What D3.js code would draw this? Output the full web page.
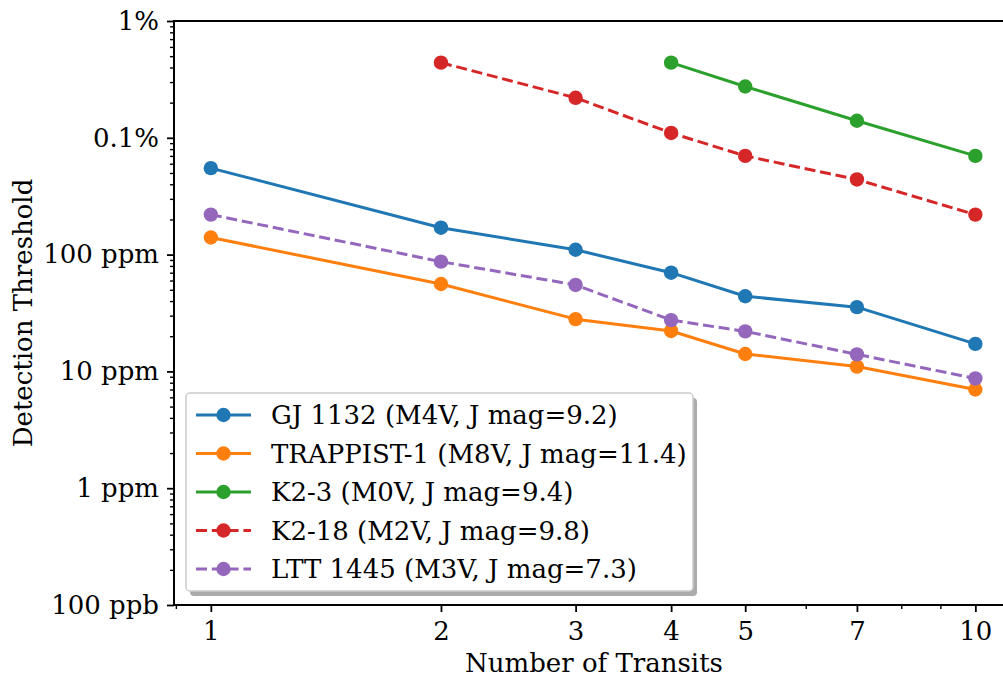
<!DOCTYPE html>
<html>
<head>
<meta charset="utf-8">
<script src="https://cdn.jsdelivr.net/npm/d3@7"></script>
<style>
  html, body { margin: 0; padding: 0; background: #fff; }
  svg { display: block; font-family: "DejaVu Serif", serif; }
</style>
</head>
<body>
<svg id="chart" width="1003" height="677"></svg>
<script>
// Number of transits observed
const transits = [1, 2, 3, 4, 5, 7, 10];

// Detection threshold (fractional depth) per target
const gj1132    = [5.5e-4, 1.7e-4, 1.1e-4, 7.0e-5, 4.4e-5, 3.55e-5, 1.72e-5];
const trappist1 = [1.4e-4, 5.6e-5, 2.8e-5, 2.22e-5, 1.41e-5, 1.1e-5, 7.0e-6];
const k2_3_x    = [4, 5, 7, 10];
const k2_3      = [4.4e-3, 2.75e-3, 1.4e-3, 7.0e-4];
const k2_18_x   = [2, 3, 4, 5, 7, 10];
const k2_18     = [4.4e-3, 2.2e-3, 1.1e-3, 7.0e-4, 4.4e-4, 2.2e-4];
const ltt1445   = [2.2e-4, 8.7e-5, 5.5e-5, 2.75e-5, 2.2e-5, 1.4e-5, 8.7e-6];

const seriesNames = [
  "GJ 1132 (M4V, J mag=9.2)",
  "TRAPPIST-1 (M8V, J mag=11.4)",
  "K2-3 (M0V, J mag=9.4)",
  "K2-18 (M2V, J mag=9.8)",
  "LTT 1445 (M3V, J mag=7.3)"
];

const xTickValues = [1, 2, 3, 4, 5, 7, 10];
const xTickLabels = ["1", "2", "3", "4", "5", "7", "10"];
const yTickValues = [1e-7, 1e-6, 1e-5, 1e-4, 1e-3, 1e-2];
const yTickLabels = ["100 ppb", "1 ppm", "10 ppm", "100 ppm", "0.1%", "1%"];

const series = [
  { name: seriesNames[0], x: transits, y: gj1132,    color: "#1f77b4", dashed: false },
  { name: seriesNames[1], x: transits, y: trappist1, color: "#ff7f0e", dashed: false },
  { name: seriesNames[2], x: k2_3_x,   y: k2_3,      color: "#2ca02c", dashed: false },
  { name: seriesNames[3], x: k2_18_x,  y: k2_18,     color: "#d62728", dashed: true },
  { name: seriesNames[4], x: transits, y: ltt1445,   color: "#9467bd", dashed: true }
];

const svg = d3.select("#chart");
const plot = { left: 174, right: 1007, top: 21, bottom: 605 };

const x = d3.scaleLog().domain([0.895, 11.0]).range([plot.left, plot.right]);
const y = d3.scaleLog().domain([1e-7, 1e-2]).range([plot.bottom, plot.top]);

const FONT = 26;
const LW = 3;
const DASH = "11,4.8";
const MR = 7.2;

// spines
svg.append("rect")
  .attr("x", plot.left).attr("y", plot.top)
  .attr("width", plot.right - plot.left).attr("height", plot.bottom - plot.top)
  .attr("fill", "none").attr("stroke", "#000").attr("stroke-width", 2);

// x axis: major labelled ticks + minor ticks
const xMinor = [0.9, 6, 8, 9];
const xAxis = d3.axisBottom(x).tickValues(xTickValues)
  .tickFormat((d, i) => xTickLabels[i]).tickSize(7).tickPadding(10);
const gx = svg.append("g").attr("transform", `translate(0,${plot.bottom})`).call(xAxis);
gx.select(".domain").remove();
gx.selectAll(".tick line").attr("stroke-width", 1.8);
gx.selectAll(".tick text").attr("font-size", FONT).attr("font-family", "DejaVu Serif").attr("fill", "#000");
const gxm = svg.append("g").attr("transform", `translate(0,${plot.bottom})`)
  .call(d3.axisBottom(x).tickValues(xMinor).tickSize(4).tickFormat(""));
gxm.select(".domain").remove();
gxm.selectAll(".tick line").attr("stroke-width", 1.4);

// y axis: decades labelled, minor ticks at 2..9
const yMinor = [];
for (let e = -7; e < -2; e++) for (let m = 2; m <= 9; m++) yMinor.push(m * Math.pow(10, e));
const yAxis = d3.axisLeft(y).tickValues(yTickValues)
  .tickFormat((d, i) => yTickLabels[i]).tickSize(7).tickPadding(8);
const gy = svg.append("g").attr("transform", `translate(${plot.left},0)`).call(yAxis);
gy.select(".domain").remove();
gy.selectAll(".tick line").attr("stroke-width", 1.8);
gy.selectAll(".tick text").attr("font-size", FONT).attr("font-family", "DejaVu Serif").attr("fill", "#000");
const gym = svg.append("g").attr("transform", `translate(${plot.left},0)`)
  .call(d3.axisLeft(y).tickValues(yMinor).tickSize(4).tickFormat(""));
gym.select(".domain").remove();
gym.selectAll(".tick line").attr("stroke-width", 1.4);

// axis titles
svg.append("text")
  .attr("x", 594).attr("y", 672)
  .attr("text-anchor", "middle").attr("font-size", FONT).text("Number of Transits");
svg.append("text")
  .attr("transform", `translate(32,${(plot.top + plot.bottom) / 2}) rotate(-90)`)
  .attr("text-anchor", "middle").attr("font-size", FONT).text("Detection Threshold");

// data lines and markers
svg.append("clipPath").attr("id", "plotclip").append("rect")
  .attr("x", plot.left).attr("y", plot.top)
  .attr("width", plot.right - plot.left).attr("height", plot.bottom - plot.top);
const dataG = svg.append("g").attr("clip-path", "url(#plotclip)");
const line = d3.line().x(d => x(d[0])).y(d => y(d[1]));

series.forEach(s => {
  const pts = s.x.map((xv, i) => [xv, s.y[i]]);
  const g = dataG.append("g");
  g.append("path").datum(pts)
    .attr("d", line).attr("fill", "none")
    .attr("stroke", s.color).attr("stroke-width", LW)
    .attr("stroke-dasharray", s.dashed ? DASH : null)
    .attr("stroke-linejoin", "round");
  g.selectAll("circle").data(pts).join("circle")
    .attr("cx", d => x(d[0])).attr("cy", d => y(d[1]))
    .attr("r", MR).attr("fill", s.color);
});

// legend
const lg = { x: 186, y: 393, w: 507, h: 198 };
const legend = svg.append("g");
legend.append("rect")
  .attr("x", lg.x + 4).attr("y", lg.y + 5).attr("width", lg.w).attr("height", lg.h)
  .attr("rx", 4).attr("fill", "#000").attr("fill-opacity", 0.33);
legend.append("rect")
  .attr("x", lg.x).attr("y", lg.y).attr("width", lg.w).attr("height", lg.h)
  .attr("rx", 4).attr("fill", "#fff").attr("stroke", "#cccccc").attr("stroke-width", 1.5);

series.forEach((s, i) => {
  const cy = 415 + i * 38.5;
  legend.append("line")
    .attr("x1", 196).attr("x2", 251).attr("y1", cy).attr("y2", cy)
    .attr("stroke", s.color).attr("stroke-width", LW)
    .attr("stroke-dasharray", s.dashed ? DASH : null);
  legend.append("circle").attr("cx", 223.5).attr("cy", cy).attr("r", MR).attr("fill", s.color);
  legend.append("text")
    .attr("x", 271).attr("y", cy).attr("dy", "0.35em")
    .attr("font-size", FONT).text(s.name);
});
</script>
</body>
</html>
